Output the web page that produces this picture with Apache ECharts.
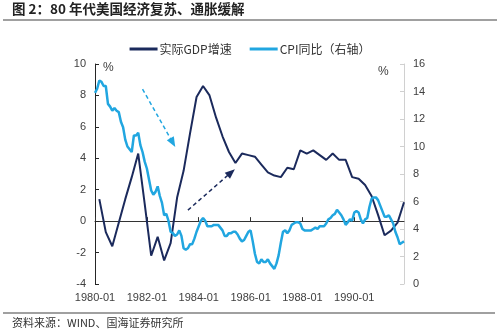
<!DOCTYPE html>
<html>
<head>
<meta charset="utf-8">
<script src="https://cdn.jsdelivr.net/npm/echarts@6/dist/echarts.min.js"></script>
<style>
  html, body { margin: 0; padding: 0; background: #fff; }
  #chart { width: 500px; height: 333px; }
</style>
</head>
<body>
<div id="chart"></div>
<script>
// Monthly category axis, 1980-01 .. 1991-12
const startYear = 1980;
const endYear = 1991;
const months = [];
for (let y = startYear; y <= endYear; y++) {
  for (let m = 1; m <= 12; m++) months.push(y + '-' + (m < 10 ? '0' + m : m));
}

// Real GDP growth, YoY %, quarterly (plotted at quarter-end months)
const gdpQuarterMonths = [];
for (let y = startYear; y <= endYear; y++) {
  ['03', '06', '09', '12'].forEach(function (m) { gdpQuarterMonths.push(y + '-' + m); });
}
const gdpValues = [
  1.4, -0.7, -1.6, -0.1,
  1.4, 2.8, 4.3, 1.1,
  -2.2, -1.0, -2.5, -1.4,
  1.5, 3.2, 5.6, 7.9,
  8.6, 8.0, 6.6, 5.4,
  4.4, 3.7, 4.3, 4.2,
  4.1, 3.6, 3.1, 2.9,
  2.8, 3.4, 3.3, 4.5,
  4.3, 4.5, 4.2, 3.9,
  4.3, 3.9, 3.9, 2.8,
  2.7, 2.3, 1.6, 0.4,
  -0.9, -0.6, -0.1, 1.2
];

// CPI YoY %, monthly (right axis)
const cpiValues = [
  13.9, 14.2, 14.8, 14.7, 14.4, 14.4, 13.1, 12.9, 12.6, 12.8, 12.6, 12.5,
  11.8, 11.4, 10.5, 10.0, 9.8, 9.6, 10.8, 10.8, 11.0, 10.1, 9.6, 8.9,
  8.4, 7.6, 6.8, 6.5, 6.7, 7.1, 6.4, 5.9, 5.0, 5.1, 4.6, 3.8,
  3.7, 3.5, 3.6, 3.9, 3.5, 2.6, 2.5, 2.6, 2.9, 2.9, 3.3, 3.8,
  4.2, 4.6, 4.8, 4.6, 4.2, 4.2, 4.2, 4.3, 4.3, 4.3, 4.1, 3.9,
  3.5, 3.5, 3.7, 3.7, 3.8, 3.8, 3.6, 3.3, 3.1, 3.2, 3.5, 3.8,
  3.9, 3.1, 2.2, 1.6, 1.5, 1.8, 1.6, 1.6, 1.8, 1.5, 1.3, 1.1,
  1.5, 2.1, 3.0, 3.8, 3.9, 3.7, 3.9, 4.3, 4.4, 4.5, 4.5, 4.4,
  4.0, 3.9, 3.9, 3.9, 3.9, 4.0, 4.1, 4.0, 4.2, 4.2, 4.2, 4.4,
  4.7, 4.8, 5.0, 5.1, 5.4, 5.2, 5.0, 4.7, 4.3, 4.5, 4.7, 4.6,
  5.2, 5.3, 5.2, 4.7, 4.4, 4.7, 4.8, 5.6, 6.2, 6.3, 6.3, 6.1,
  5.7, 5.3, 4.9, 4.9, 5.0, 4.7, 4.4, 3.8, 3.4, 2.9, 3.0, 3.1
];

// Trend arrows, in data coordinates of the left axis
const inflationArrow = [['1981-11', 8.4], ['1983-01', 5.0]];
const growthArrow = [['1983-08', 0.7], ['1985-04', 3.1]];

const seriesNames = ['实际GDP增速', 'CPI同比（右轴）'];
const leftTicks = { min: -4, max: 10, interval: 2 };
const rightTicks = { min: 0, max: 16, interval: 2 };

const GDP_COLOR = '#1b2a5c';
const CPI_COLOR = '#21a6e0';
const FONT = '"Liberation Sans", Arial, "Noto Sans CJK SC", sans-serif';
const CJK_FONT = '"Noto Sans CJK SC", "Liberation Sans", sans-serif';

const gdpData = gdpQuarterMonths.map(function (m, i) { return [m, gdpValues[i]]; });

const chart = echarts.init(document.getElementById('chart'), null, { renderer: 'canvas' });

chart.setOption({
  animation: false,
  backgroundColor: '#ffffff',
  textStyle: { fontFamily: FONT },
  grid: { left: 95, right: 96, top: 64, bottom: 49 },
  legend: {
    data: seriesNames,
    top: 38,
    left: 'center',
    itemGap: 18,
    itemWidth: 28,
    itemHeight: 3,
    icon: 'rect',
    textStyle: { fontFamily: CJK_FONT, fontSize: 12, color: '#333333', padding: [0, 0, 0, -3] }
  },
  xAxis: [
    {
      type: 'category',
      data: months,
      boundaryGap: false,
      position: 'bottom',
      axisLine: { show: false, onZero: false },
      axisTick: { show: false },
      axisLabel: {
        interval: 23,
        margin: 8,
        fontSize: 11,
        color: '#404040',
        fontFamily: FONT
      },
      splitLine: { show: false }
    },
    {
      type: 'category',
      data: months,
      boundaryGap: false,
      position: 'bottom',
      axisLine: { show: true, onZero: true, onZeroAxisIndex: 0, lineStyle: { color: '#333333', width: 1 } },
      axisTick: { show: true, inside: true, interval: 23, length: 4, lineStyle: { color: '#333333' } },
      axisLabel: { show: false },
      splitLine: { show: false }
    }
  ],
  yAxis: [
    {
      type: 'value',
      min: leftTicks.min,
      max: leftTicks.max,
      interval: leftTicks.interval,
      position: 'left',
      axisLine: { show: true, lineStyle: { color: '#262626', width: 1 } },
      axisTick: { show: true, inside: true, length: 4, lineStyle: { color: '#262626' } },
      axisLabel: { margin: 9, fontSize: 11, color: '#404040', fontFamily: FONT },
      splitLine: { show: false }
    },
    {
      type: 'value',
      min: rightTicks.min,
      max: rightTicks.max,
      interval: rightTicks.interval,
      position: 'right',
      axisLine: { show: true, lineStyle: { color: '#d0d0d0', width: 1 } },
      axisTick: { show: true, inside: true, length: 4, lineStyle: { color: '#d0d0d0' } },
      axisLabel: { margin: 9, fontSize: 11, color: '#404040', fontFamily: FONT },
      splitLine: { show: false }
    }
  ],
  series: [
    {
      name: seriesNames[0],
      type: 'line',
      xAxisIndex: 0,
      yAxisIndex: 0,
      data: gdpData,
      showSymbol: false,
      symbol: 'none',
      lineStyle: { color: GDP_COLOR, width: 2 },
      itemStyle: { color: GDP_COLOR },
      z: 3,
      markLine: {
        silent: true,
        symbol: ['none', 'triangle'],
        symbolSize: [8, 10],
        label: { show: false },
        data: [
          [
            { coord: inflationArrow[0], lineStyle: { color: CPI_COLOR, type: [4, 3], width: 1.5 }, itemStyle: { color: CPI_COLOR } },
            { coord: inflationArrow[1] }
          ],
          [
            { coord: growthArrow[0], lineStyle: { color: GDP_COLOR, type: [4, 3], width: 1.5 }, itemStyle: { color: GDP_COLOR } },
            { coord: growthArrow[1] }
          ]
        ]
      }
    },
    {
      name: seriesNames[1],
      type: 'line',
      xAxisIndex: 0,
      yAxisIndex: 1,
      data: cpiValues,
      showSymbol: false,
      symbol: 'none',
      lineStyle: { color: CPI_COLOR, width: 2.5 },
      itemStyle: { color: CPI_COLOR },
      z: 4
    }
  ],
  graphic: [
    {
      type: 'text',
      left: 12,
      top: 2,
      style: {
        text: '图 2：80 年代美国经济复苏、通胀缓解',
        font: 'bold 13.5px ' + CJK_FONT,
        fill: '#222222'
      }
    },
    {
      type: 'line',
      shape: { x1: 3, y1: 20, x2: 497, y2: 20 },
      style: { stroke: '#808080', lineWidth: 1.5 }
    },
    {
      type: 'text',
      left: 103,
      top: 62,
      style: { text: '%', font: '12px ' + FONT, fill: '#404040' }
    },
    {
      type: 'text',
      left: 378,
      top: 66,
      style: { text: '%', font: '12px ' + FONT, fill: '#404040' }
    },
    {
      type: 'line',
      shape: { x1: 3, y1: 313, x2: 495, y2: 313 },
      style: { stroke: '#808080', lineWidth: 1.5 }
    },
    {
      type: 'text',
      left: 12,
      top: 317,
      style: {
        text: '资料来源：WIND、国海证券研究所',
        font: '11px ' + CJK_FONT,
        fill: '#333333'
      }
    }
  ]
});
</script>
</body>
</html>
